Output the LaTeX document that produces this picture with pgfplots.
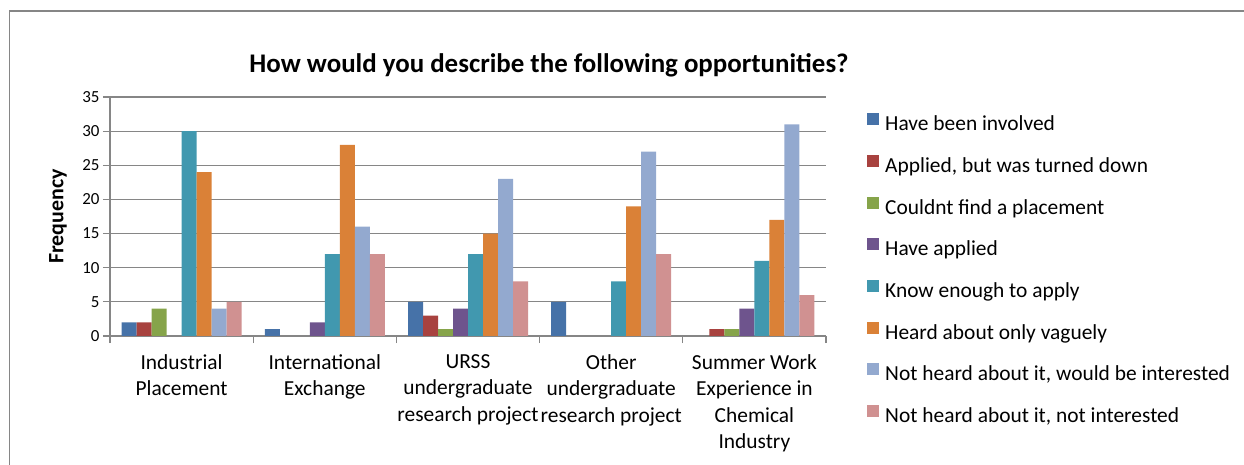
\documentclass[border=0pt]{standalone}
\usepackage{pgfplots}
\pgfplotsset{compat=1.18}
\usepackage{pgfplotstable}
\usepackage{fontspec}
\setmainfont{Carlito}
\definecolor{c1}{HTML}{4672A8}
\definecolor{c2}{HTML}{A8423F}
\definecolor{c3}{HTML}{86A44A}
\definecolor{c4}{HTML}{6E548D}
\definecolor{c5}{HTML}{4198AF}
\definecolor{c6}{HTML}{DA8137}
\definecolor{c7}{HTML}{93A9CF}
\definecolor{c8}{HTML}{D09191}
\definecolor{gridgray}{HTML}{868686}
\pgfplotstableread{
x a b c d e f g h
0 2 2 4 0 30 24 4 5
1 1 0 0 2 12 28 16 12
2 5 3 1 4 12 15 23 8
3 5 0 0 0 8 19 27 12
4 0 1 1 4 11 17 31 6
}\data
\begin{document}
\begin{tikzpicture}
\useasboundingbox (0,0) rectangle (1244bp,465bp);
\draw[gridgray, line width=1.5bp] (9.5bp,0) -- (9.5bp,454bp) -- (1244bp,454bp);
\node[font=\fontsize{27}{32}\selectfont\bfseries] at (549bp,400bp) {How would you describe the following opportunities?};
\begin{axis}[
  at={(110bp,129bp)}, anchor=south west,
  scale only axis, width=716bp, height=239bp,
  ybar=0pt, bar width=15bp,
  xmin=-0.5, xmax=4.5, ymin=0, ymax=35,
  ytick={0,5,...,35},
  xtick={-0.5,0.5,...,4.5},
  x tick label as interval=true,
  xticklabels={{Industrial\\Placement},{International\\Exchange},{URSS\\undergraduate\\research project},{Other\\undergraduate\\research project},{Summer Work\\Experience in\\Chemical\\Industry}},
  xticklabel style={align=center, font=\fontsize{21.5}{26.5}\selectfont, anchor=north, yshift=-8bp},
  yticklabel style={font=\fontsize{17}{20}\selectfont},
  /pgf/number format/assume math mode=true,
  axis lines*=left,
  axis line style={gridgray, line width=1.2bp},
  tick style={gridgray, line width=1.2bp},
  tick align=outside, major tick length=7bp,
  ymajorgrids, grid style={gridgray, line width=1.2bp},
  ylabel={\bfseries Frequency},
  ylabel style={font=\fontsize{22}{26}\selectfont, at={(axis description cs:-0.0726,0.5)}, anchor=center},
  legend cell align=left,
  legend image code/.code={\fill[#1] (0bp,0.5bp) rectangle (12bp,12.5bp);},
  legend style={at={(1,1)}, anchor=north west, xshift=41bp, yshift=-16bp,
    draw=none, fill=none, inner sep=0pt, row sep=20.2bp, column sep=6bp,
    font=\fontsize{21.5}{25}\selectfont,
    nodes={inner sep=0pt, text height=14bp, text depth=4bp}},
]
\addplot[fill=c1, draw=none] table[x=x,y=a] {\data};
\addplot[fill=c2, draw=none] table[x=x,y=b] {\data};
\addplot[fill=c3, draw=none] table[x=x,y=c] {\data};
\addplot[fill=c4, draw=none] table[x=x,y=d] {\data};
\addplot[fill=c5, draw=none] table[x=x,y=e] {\data};
\addplot[fill=c6, draw=none] table[x=x,y=f] {\data};
\addplot[fill=c7, draw=none] table[x=x,y=g] {\data};
\addplot[fill=c8, draw=none] table[x=x,y=h] {\data};
\legend{Have been involved, {Applied, but was turned down}, Couldnt find a placement, Have applied, Know enough to apply, Heard about only vaguely, {Not heard about it, would be interested}, {Not heard about it, not interested}}
\end{axis}
\end{tikzpicture}
\end{document}
